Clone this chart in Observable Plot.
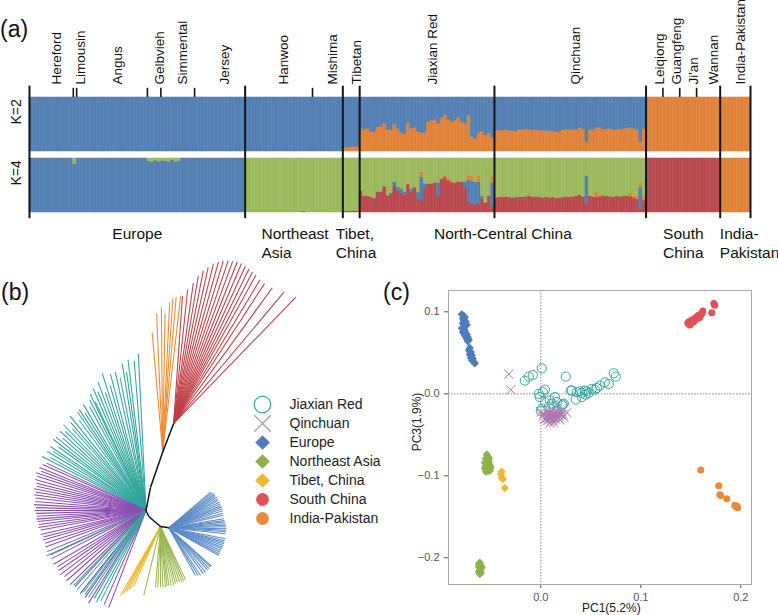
<!DOCTYPE html>
<html><head><meta charset="utf-8">
<script src="https://cdn.jsdelivr.net/npm/d3@7"></script>
<script src="https://cdn.jsdelivr.net/npm/@observablehq/plot@0.6"></script>
<style>
body{margin:0;background:#fff;font-family:"Liberation Sans",Arial,Helvetica,sans-serif;}
#fig{position:relative;width:778px;height:615px;overflow:hidden;background:#fff;}
.lbl{position:absolute;white-space:nowrap;line-height:1;color:#111;}
</style></head><body><div id="fig"></div>
<script>
const FONT = '"Liberation Sans", Arial, Helvetica, sans-serif';

// ---------------- (a) STRUCTURE data ----------------
const breeds = ["Hereford","Limousin","Angus","Gelbvieh","Simmental","Jersey","Hanwoo","Mishima","Tibetan","Jiaxian Red","Qinchuan","Leiqiong","Guangfeng","Ji'an","Wannan","India-Pakistan"];
const breedN = [13,1,21,4,10,15,20,9,5,40,45,5,5,5,7,9];
const breedRegion = [0,0,0,0,0,0,1,1,2,3,3,4,4,4,4,5];
const regions = ["Europe","Northeast\nAsia","Tibet,\nChina","North-Central China","South\nChina","India-\nPakistan"];
const fullLineBreeds = ["Jiaxian Red","Qinchuan"];
const kLabels = ["K=2","K=4"];
const comps = ["EUT","EAT","SCI","IPI"];           // K=4 ancestries (K=2 uses EUT & IPI)
const compColors = ["#5580b3","#9db95d","#b94a4f","#e0833a"];

// K=2 indicine fraction, default per breed
const breedK2Ind = [0,0,0,0,0,0,0,0,0.08,null,null,1,1,1,1,1];
// K=2 indicine per sample
const k2BySample = {
  "Tibetan": [0.07,0.07,0.08,0.08,0.08],
  "Jiaxian Red": [0.44,0.40,0.42,0.37,0.36,0.45,0.46,0.51,0.40,0.40,0.51,0.42,0.34,0.33,0.52,0.42,0.44,0.36,0.34,0.34,
                  0.54,0.57,0.59,0.51,0.62,0.68,0.59,0.54,0.57,0.62,0.54,0.51,0.67,0.27,0.23,0.34,0.37,0.30,0.34,0.25],
  "Qinchuan": [0.39,0.39,0.38,0.40,0.38,0.38,0.36,0.40,0.40,0.41,0.40,0.39,0.40,0.38,0.39,0.38,0.38,0.38,0.36,0.36,
               0.40,0.40,0.40,0.40,0.40,0.44,0.41,0.17,0.40,0.40,0.44,0.44,0.40,0.41,0.42,0.40,0.40,0.41,0.41,0.43,
               0.44,0.42,0.40,0.17,0.41]
};
// K=4 main ancestry of each breed (takes the remainder)
const breedK4Main = ["EUT","EUT","EUT","EUT","EUT","EUT","EAT","EAT","EAT","EAT","EAT","SCI","SCI","SCI","SCI","IPI"];
// K=4 minor ancestries per sample
const k4BySample = {
  "Limousin": {EAT: [0.10]},
  "Gelbvieh": {EAT: [0.05,0.07,0.04,0.06]},
  "Simmental": {EAT: [0.05,0.05,0.06,0.03,0.06,0.05,0,0,0,0]},
  "Hanwoo": {EUT: [0,0,0,0,0,0,0,0,0,0,0,0,0,0,0,0,0,0.02,0,0]},
  "Tibetan": {SCI: [0.02,0.02,0.02,0.03,0.02]},
  "Jiaxian Red": {
    SCI: [0.40,0.31,0.30,0.28,0.26,0.38,0.38,0.48,0.31,0.33,0.49,0.40,0.36,0.32,0.52,0.38,0.46,0.25,0.22,0.45,
          0.53,0.53,0.55,0.30,0.62,0.65,0.59,0.55,0.55,0.57,0.56,0.45,0.19,0.16,0.14,0.16,0.25,0.18,0.30,0.12],
    EUT: [0,0,0,0,0,0,0,0,0,0.03,0.07,0.07,0.08,0.06,0,0.05,0,0.12,0.43,0.08,
          0,0,0,0.25,0,0,0,0,0,0,0,0.12,0.41,0.42,0.42,0.40,0.05,0,0,0.43],
    IPI: [0,0,0,0,0,0,0,0,0,0,0,0,0,0,0,0,0,0,0.10,0,
          0,0,0,0,0,0.03,0.04,0.03,0,0,0,0,0.08,0.10,0,0.12,0,0,0,0.12]
  },
  "Qinchuan": {
    SCI: [0.27,0.28,0.28,0.29,0.28,0.27,0.28,0.26,0.28,0.29,0.30,0.28,0.29,0.28,0.27,0.28,0.27,0.28,0.26,0.27,
          0.28,0.29,0.28,0.29,0.30,0.32,0.29,0.15,0.30,0.29,0.28,0.29,0.31,0.30,0.29,0.28,0.30,0.29,0.30,0.30,
          0.29,0.27,0.25,0.06,0.22],
    EUT: [0,0,0,0,0,0,0,0.03,0,0,0,0,0,0,0,0,0,0,0,0,
          0,0,0,0,0,0,0,0.53,0,0,0,0,0,0,0,0,0,0,0,0,
          0,0,0,0.40,0],
    IPI: [0,0,0,0,0,0,0,0,0,0,0,0,0,0,0,0,0,0,0,0,
          0,0,0,0,0,0,0,0,0,0,0.09,0.04,0,0,0,0,0,0,0,0,
          0.06,0.03,0.05,0.08,0.08]
  }
};

// ---------------- (b) tree data ----------------
// internal branches: [child, parent, angle (deg), length]
const treeInternal = [["P1","B",79,23.4],["A","P1",71,37.4],["R","A",69,30.5],["Q","B",-65,6.6],["C","Q",-40.5,15.4],["D","C",-9,8.4]];
// tips: [angle (deg), length] from the clade hub
const tipsJiaxianUpper = [[92.8,157],[94.5,150],[96.8,152],[98,140],[99.2,149],[101,135],[102.5,142],[104.6,141],[106,130],[107.7,144],
  [109,125],[110.5,137],[112,128],[113.4,133],[115,120],[115.6,129],[117,124],[118.5,118],[120.6,123],[122,115],
  [123.5,121],[124.8,120],[126.5,112],[128.8,121],[130.5,116],[132,110],[133.9,119],[135.5,113],[137.3,117],[139,110],
  [140.8,116],[142.5,117],[144,108],[146.2,115],[147.5,110],[149.1,115],[151,109],[152.5,117]];
const tipsQinchuan = [[154.5,110],[156,113],[158,115],[159.5,112],[161,116],[162.5,114],[164.4,115],[166,113],[167.5,112],[169,114],
  [170.5,112],[172,113],[173.5,111],[175.4,111],[177,112],[178.5,110],[180,111],[181.5,110],[183,109],[184.5,110],
  [185.8,109],[187.5,108],[189,109],[190.5,107],[192.8,108],[194.5,106],[196,107],[198,106],[200,107],[202.6,107],
  [205,105],[207,106],[210.2,107],[212.5,105],[214.5,106],[216.8,107],[219,105],[221.5,106],[224.3,106],[227,104],
  [231.6,106],[235,106],[238.2,109],[246,103],[249,104]];
const tipsJiaxianLower = [[204.5,109],[226,104],[229,105],[232.5,103],[234,104],[236.5,104],[239.5,102],[241.5,104],[243.5,101]];
const tipsTibet = [[239.9,79.8],[241.1,76.5],[242.4,73.4],[243.8,70.2],[245.8,65.8]];
const tipsNEA = [[256.4,71],[265.3,60.9],[267.5,61],[270,60.7],[272.3,61],[274.7,60.9],[276.3,60],[278,59.6],[280.3,60],[282.7,60.5],
  [284.7,59],[286.7,58.1],[289,59],[291.3,59.8],[293.2,59],[295.1,58.9]];
const tipsEurope = [[40.5,55],[39,56],[37.1,56.5],[35.5,57],[34,56],[32.3,57.3],[30.5,57],[29,56.5],[27,57],[24.9,57],
  [23,56.5],[21.5,57],[19.6,56.7],[17.5,56.5],[15,56.3],[13,56],
  [9.3,55.7],[7.5,56],[6,56.5],[4,56.8],[2.5,57.2],[1,57.5],[-1,57.7],[-2.5,57.5],[-4,57.3],[-6,57],
  [-11,57.8],[-13,57.5],[-14.5,57.3],[-16.2,57.3],[-18,57.5],[-19.8,57.4],[-21.5,57.4],[-23.5,57],[-25.5,57],[-27.3,57.2],[-29,57.2],
  [-42,57],[-43.4,57.4],[-45.5,57.4],[-47.5,57.5],[-50.4,57.6],[-53,57.4],[-56.4,57.3],[-58.5,56],[-60.8,54.7]];
const tipsIndia = [[95,120],[92.5,139],[90.5,145],[89,139],[87.3,150],[86.2,154],[85,156],[83.4,157]];
const tipsSouthChina = [[86,128],[84,135],[82,142],[80.5,150],[79,156],[77.5,160],[76,165],[74.5,168],[73,170],[71.5,172],
  [70,173],[68.5,174],[67,174],[65.5,173],[64,172],[62.5,171],[61,170],[59,168],[57,167],[54,168],[50,172],[46,176]];

// ---------------- (c) PCA data: [PC1, PC3] ----------------
const groups = ["Jiaxian Red","Qinchuan","Europe","Northeast Asia","Tibet, China","South China","India-Pakistan"];
const groupColors = ["#36a89f","#ae78ae","#4d7dbb","#8db14b","#f1b531","#e2505a","#ee8935"];
const treeColors = {jx:"#2ea59c", qc:"#8b4fb3", eu:"#5b8bc8", nea:"#9bb853", tb:"#efb51e", sc:"#c23c44", ip:"#ef8a2c", bb:"#111"};
const pcaJiaxian = [[0.001,0.031],[-0.008,0.023],[-0.012,0.021],[-0.016,0.016],[0.025,0.021],[0.004,0.005],[-0.002,0.000],[-0.001,-0.004],
  [0.009,-0.008],[0.014,-0.004],[0.023,-0.012],[0.021,-0.014],[0.001,-0.018],[0.008,-0.016],[0.031,0.004],[0.036,0.002],[0.041,0.001],
  [0.044,0.004],[0.048,0.001],[0.051,0.006],[0.054,0.005],[0.059,0.010],[0.064,0.014],[0.073,0.025],[0.075,0.021],[0.035,-0.007],
  [0.041,-0.004],[0.011,-0.012],[0.016,-0.010],[0.004,-0.010],[0.000,-0.021],[0.068,0.012],[0.046,0.003],[0.022,-0.013],[0.039,0.003],
  [0.045,-0.001],[0.002,0.002],[0.013,-0.017],[0.030,0.004],[0.056,0.007]];
const pcaQinchuan = [[0.003,-0.024],[0.005,-0.027],[0.006,-0.030],[0.007,-0.025],[0.008,-0.028],[0.008,-0.032],[0.009,-0.026],[0.009,-0.030],
  [0.010,-0.023],[0.010,-0.028],[0.010,-0.034],[0.011,-0.026],[0.011,-0.030],[0.012,-0.025],[0.012,-0.028],[0.012,-0.032],[0.013,-0.027],
  [0.013,-0.030],[0.014,-0.024],[0.014,-0.029],[0.015,-0.026],[0.015,-0.031],[0.016,-0.028],[0.016,-0.022],[0.017,-0.025],[0.018,-0.027],
  [0.018,-0.030],[0.019,-0.024],[0.020,-0.026],[0.021,-0.022],[0.022,-0.025],[0.007,-0.022],[0.004,-0.031],[0.013,-0.035],[0.009,-0.036],
  [0.000,-0.022],[0.026,-0.023],[-0.032,0.024],[-0.030,0.005],[0.017,-0.019],[0.006,-0.033],[0.019,-0.032],[0.011,-0.021],[0.002,-0.027],[0.023,-0.028]];
const pcaEurope = [[-0.079,0.097],[-0.077,0.095],[-0.078,0.092],[-0.076,0.093],[-0.077,0.089],[-0.075,0.088],[-0.078,0.086],[-0.076,0.085],
  [-0.074,0.084],[-0.079,0.080],[-0.077,0.079],[-0.076,0.077],[-0.078,0.075],[-0.075,0.074],[-0.074,0.072],[-0.076,0.071],[-0.073,0.069],
  [-0.074,0.067],[-0.072,0.066],[-0.073,0.064],[-0.071,0.056],[-0.072,0.053],[-0.070,0.051],[-0.071,0.048],[-0.069,0.047],[-0.070,0.044],
  [-0.068,0.043],[-0.069,0.041],[-0.067,0.039],[-0.066,0.037]];
const pcaNEA = [[-0.054,-0.074],[-0.053,-0.077],[-0.055,-0.079],[-0.052,-0.080],[-0.054,-0.082],[-0.056,-0.084],[-0.052,-0.084],[-0.054,-0.086],
  [-0.051,-0.087],[-0.055,-0.088],[-0.053,-0.089],[-0.056,-0.091],[-0.052,-0.091],[-0.054,-0.092],[-0.050,-0.090],[-0.053,-0.094],
  [-0.051,-0.094],[-0.055,-0.095],[-0.053,-0.083],[-0.052,-0.078],
  [-0.061,-0.206],[-0.060,-0.209],[-0.062,-0.211],[-0.060,-0.213],[-0.061,-0.215],[-0.062,-0.217],[-0.060,-0.218],[-0.061,-0.220],[-0.059,-0.212],[-0.062,-0.208]];
const pcaTibet = [[-0.039,-0.095],[-0.040,-0.098],[-0.039,-0.102],[-0.038,-0.104],[-0.036,-0.115]];
const pcaSouthChina = [[0.147,0.086],[0.148,0.088],[0.150,0.087],[0.151,0.090],[0.149,0.084],[0.152,0.088],[0.153,0.088],[0.154,0.092],
  [0.155,0.091],[0.156,0.094],[0.157,0.092],[0.158,0.096],[0.160,0.096],[0.159,0.093],[0.161,0.098],[0.162,0.101],[0.171,0.099],
  [0.173,0.110],[0.174,0.108],[0.153,0.090],[0.150,0.085]];
const pcaIndia = [[0.160,-0.093],[0.178,-0.112],[0.180,-0.124],[0.186,-0.128],[0.194,-0.136],[0.196,-0.137],[0.197,-0.139],[0.195,-0.138],[0.179,-0.123]];

// ======================= build =======================
const fig = document.getElementById("fig");
function place(node, left, top) {
  node.style.position = "absolute"; node.style.left = left + "px"; node.style.top = top + "px";
  fig.appendChild(node);
}
function label(text, left, top, size, css = "") {
  const d = document.createElement("div");
  d.className = "lbl"; d.textContent = text;
  d.style.cssText += `left:${left}px;top:${top}px;font-size:${size}px;` + css;
  fig.appendChild(d); return d;
}

// ---- panel (a)
const rowsK2 = [], rowsK4 = [], breedRows = [], minorB = [], majorSet = new Set([0]);
let idx = 0;
const regionStart = [], regionEnd = [];
breeds.forEach((b, bi) => {
  const n = breedN[bi], start = idx, r = breedRegion[bi];
  if (regionStart[r] === undefined) regionStart[r] = start;
  for (let s = 0; s < n; s++, idx++) {
    const ind = k2BySample[b] ? k2BySample[b][s] : breedK2Ind[bi];
    rowsK2.push({i: idx, comp: "IPI", v: ind}, {i: idx, comp: "EUT", v: 1 - ind});
    const o = k4BySample[b] || {};
    const main = breedK4Main[bi];
    const val = {};
    let others = 0;
    for (const c of comps) if (c !== main) { val[c] = o[c] ? o[c][s] : 0; others += val[c]; }
    val[main] = Math.max(0, 1 - others);
    for (const c of ["SCI","EUT","IPI","EAT"]) rowsK4.push({i: idx, comp: c, v: val[c]});
  }
  regionEnd[r] = idx;
  breedRows.push({name: b, mid: start + n / 2});
  const isMajor = fullLineBreeds.includes(b);
  if (isMajor) { majorSet.add(start); majorSet.add(idx); }
  if (bi < breeds.length - 1 && breedRegion[bi + 1] !== r) majorSet.add(idx);
  else if (!isMajor && !fullLineBreeds.includes(breeds[bi + 1])) minorB.push(idx);
});
majorSet.add(idx);
const totalN = idx;
const majorB = [...majorSet].sort((a, b) => a - b);
const minorOnly = minorB.filter(d => !majorSet.has(d) && d < totalN);
const regionRows = regions.map((name, r) => ({name, mid: (regionStart[r] + regionEnd[r]) / 2}));

function stackRect(rows, k) {
  const st = Plot.stackY({x: "i", y: "v", fill: "comp", stroke: "comp", fy: () => k});
  return Plot.rect(rows, {...st, x1: "i", x2: d => d.i + 1, strokeWidth: 0.5});
}
const regionDx = {"Northeast\nAsia": -32.5, "Tibet,\nChina": -15.5, "South\nChina": -20, "India-\nPakistan": -15.5};
const plotA = Plot.plot({
  width: 778, height: 262,
  marginLeft: 29, marginRight: 28, marginTop: 97, marginBottom: 50,
  style: {background: "transparent", fontFamily: FONT, overflow: "visible", color: "#111"},
  x: {domain: [0, totalN], axis: null},
  y: {domain: [0, 1], axis: null},
  fy: {domain: kLabels, axis: null, paddingInner: 0.12, paddingOuter: 0},
  color: {domain: comps, range: compColors},
  marks: [
    stackRect(rowsK2, "K=2"),
    stackRect(rowsK4, "K=4"),
    Plot.ruleX(majorB, {x: d => d, y1: -0.14, y2: 1.21, fy: () => "K=2", stroke: "#151515", strokeWidth: 2}),
    Plot.ruleX(majorB, {x: d => d, y1: -0.115, y2: 1, fy: () => "K=4", stroke: "#151515", strokeWidth: 2}),
    Plot.ruleX(minorOnly, {x: d => d, y1: 1, y2: 1.17, fy: () => "K=2", stroke: "#151515", strokeWidth: 1.6}),
    Plot.text(breedRows, {x: "mid", text: "name", fy: () => "K=2", frameAnchor: "top", dy: -13, rotate: -90,
      textAnchor: "start", fontSize: 13.5, fill: "#111"}),
    Plot.text(kLabels, {fy: d => d, text: d => d, frameAnchor: "left", dx: -12.5, rotate: -90, fontSize: 14, fill: "#111"}),
    ...regionRows.map(r => Plot.text([r], {x: "mid", text: "name", fy: () => "K=4", frameAnchor: "bottom",
      lineAnchor: "top", dy: 13.5, fontSize: 15.5, lineHeight: 1.2, fill: "#111",
      textAnchor: r.name.includes("\n") ? "start" : "middle", dx: regionDx[r.name] || 0}))
  ]
});
place(plotA, 0, 0);

// ---- panel (b) tree
const rad = Math.PI / 180;
const nodePos = {B: [0, 0]};
for (const [c, p, a, l] of treeInternal) {
  const [px, py] = nodePos[p];
  nodePos[c] = [px + l * Math.cos(a * rad), py + l * Math.sin(a * rad)];
}
const backbone = treeInternal.map(([c, p]) => ({x1: nodePos[p][0], y1: nodePos[p][1], x2: nodePos[c][0], y2: nodePos[c][1]}));
function tipLinks(hub, tips) {
  const [hx, hy] = nodePos[hub];
  return tips.map(([a, l]) => ({x1: hx, y1: hy, x2: hx + l * Math.cos(a * rad), y2: hy + l * Math.sin(a * rad)}));
}
const clades = [
  {links: tipLinks("B", tipsJiaxianUpper), color: treeColors.jx},
  {links: tipLinks("B", tipsQinchuan), color: treeColors.qc},
  {links: tipLinks("B", tipsJiaxianLower), color: treeColors.jx},
  {links: tipLinks("C", tipsTibet), color: treeColors.tb},
  {links: tipLinks("C", tipsNEA), color: treeColors.nea},
  {links: tipLinks("D", tipsEurope), color: treeColors.eu},
  {links: tipLinks("A", tipsIndia), color: treeColors.ip},
  {links: tipLinks("R", tipsSouthChina), color: treeColors.sc},
  {links: backbone, color: treeColors.bb, width: 1.5}
];
const plotB = Plot.plot({
  width: 330, height: 365, margin: 0,
  style: {background: "transparent", overflow: "visible"},
  x: {domain: [-145.5, 184.5], axis: null},
  y: {domain: [-105, 260], axis: null},
  marks: clades.map(c => Plot.link(c.links, {x1: "x1", y1: "y1", x2: "x2", y2: "y2", stroke: c.color, strokeWidth: c.width || 1.05}))
});
place(plotB, 0, 250);

// legend
const symbolOf = {"Jiaxian Red": "circle", "Qinchuan": "times", "Europe": "diamond2", "Northeast Asia": "diamond2",
  "Tibet, China": "diamond2", "South China": "circle", "India-Pakistan": "circle"};
const openGroups = ["Jiaxian Red", "Qinchuan"];
const legendR = {"circle": 6.4, "times": 7.6, "diamond2": 6.6};
const plotLegend = Plot.plot({
  width: 150, height: 170, margin: 0,
  style: {background: "transparent", fontFamily: FONT, overflow: "visible"},
  x: {domain: [0, 150], axis: null},
  y: {type: "point", domain: groups, range: [16, 153], axis: null},
  marks: [
    ...groups.map((g, gi) => Plot.dot([g], {x: () => 22, y: d => d, symbol: symbolOf[g],
      r: g === "Jiaxian Red" ? 8.3 : legendR[symbolOf[g]],
      ...(openGroups.includes(g) ? {stroke: g === "Qinchuan" ? "#b98ab9" : groupColors[gi], strokeWidth: 1.2, fill: "none"} : {fill: groupColors[gi], stroke: "none"})})),
    Plot.text(groups, {x: () => 49, y: d => d, text: d => d, textAnchor: "start", fontSize: 14, fill: "#222"})
  ]
});
place(plotLegend, 240, 376);

// ---- panel (c) PCA
const pcaSets = {"Europe": pcaEurope, "Northeast Asia": pcaNEA, "Tibet, China": pcaTibet, "South China": pcaSouthChina,
  "India-Pakistan": pcaIndia, "Jiaxian Red": pcaJiaxian, "Qinchuan": pcaQinchuan};
const pcaR = {"circle": 3.5, "times": 4.2, "diamond2": 3.7};
const fmt = d3.format(".1f");
const plotC = Plot.plot({
  width: 398, height: 330, marginLeft: 68, marginRight: 27, marginTop: 5, marginBottom: 31,
  style: {background: "transparent", fontFamily: FONT, fontSize: "11px", color: "#555", overflow: "visible"},
  x: {domain: [-0.0923, 0.2107], ticks: [0, 0.1, 0.2], tickFormat: fmt, tickSize: 4, label: null},
  y: {domain: [-0.2326, 0.126], ticks: [-0.2, -0.1, 0, 0.1], tickFormat: fmt, tickSize: 4, label: null},
  marks: [
    Plot.ruleX([0], {stroke: "#8a8a8a", strokeDasharray: "1.5,1.5"}),
    Plot.ruleY([0], {stroke: "#8a8a8a", strokeDasharray: "1.5,1.5"}),
    ...Object.keys(pcaSets).map(g => {
      const gi = groups.indexOf(g), sym = symbolOf[g];
      const open = openGroups.includes(g);
      return Plot.dot(pcaSets[g], {x: d => d[0], y: d => d[1], symbol: sym,
        r: g === "Jiaxian Red" ? 4.6 : pcaR[sym],
        ...(open ? {stroke: groupColors[gi], strokeWidth: 1, fill: "none"} : {fill: groupColors[gi], stroke: "none"})});
    }),
    Plot.frame({stroke: "#a8a8a8"})
  ]
});
place(plotC, 380, 285);

// ---- HTML text
label("(a)", 0, 18, 23);
label("(b)", 1, 281, 23);
label("(c)", 383, 281, 23);
label("PC1(5.2%)", 582, 602, 12, "color:#222;");
const yl = label("PC3(1.9%)", 0, 0, 12, "color:#222;");
yl.style.left = "417px"; yl.style.top = "422px";
yl.style.transform = "translate(-50%,-50%) rotate(-90deg)";
</script></body></html>
